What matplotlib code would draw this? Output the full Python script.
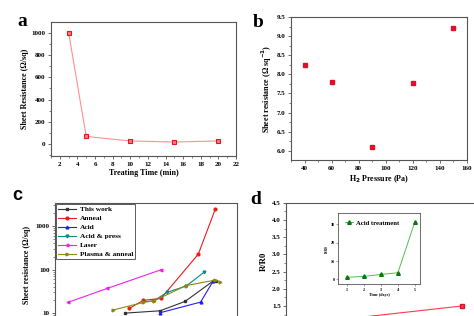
import matplotlib
matplotlib.use("Agg")
import matplotlib.pyplot as plt
from matplotlib.ticker import MultipleLocator, LogLocator, NullFormatter

plt.rcParams['font.family'] = ['Liberation Serif', 'DejaVu Serif']
plt.rcParams['font.weight'] = 'bold'
plt.rcParams['axes.labelweight'] = 'bold'

# ---- data ----
a_time = [3, 5, 10, 15, 20]
a_res = [1000, 70, 30, 20, 30]

b_press = [40, 60, 90, 120, 150]
b_res = [8.25, 7.8, 6.1, 7.78, 9.2]

c_labels = ["This work", "Anneal", "Acid", "Acid & press", "Laser", "Plasma & anneal"]
c_x = [
    [75.4, 83.1, 88.6, 94.8, 95.4],
    [76.3, 79.4, 83.3, 91.5, 95.2],
    [83.1, 92.0, 94.8],
    [79.4, 81.6, 84.6, 88.9, 92.7],
    [62.8, 71.5, 83.4],
    [72.8, 79.4, 81.8, 88.8, 95.2, 96.3],
]
c_y = [
    [10.0, 11.3, 18.6, 55, 54],
    [12.8, 19.6, 21.8, 227, 2420],
    [10.2, 17.9, 55.3],
    [18.2, 18.9, 29.9, 42.4, 86.3],
    [17.6, 37, 100],
    [11.8, 17.6, 19.2, 42.9, 57.4, 52.5],
]
c_colors = ["#333333", "#f01818", "#2020f0", "#108888", "#f020f0", "#8a8a10"]
c_markers = ["s", "o", "^", "v", "<", ">"]

d_x = [3, 9]
d_y = [1.12, 1.5]

inset_days = [1, 2, 3, 4, 5]
inset_ratio = [1.1, 1.6, 2.7, 3.6, 31.4]

W, H = 474, 316
fig = plt.figure(figsize=(W / 100, H / 100), dpi=100)


def ax_px(x0, y0, x1, y1):
    return fig.add_axes([x0 / W, 1 - y1 / H, (x1 - x0) / W, (y1 - y0) / H])


spine_col = "#555555"
tick_fs = 5
lab_fs = 5.8


def style(ax, fs=tick_fs):
    for s in ax.spines.values():
        s.set_color(spine_col)
        s.set_linewidth(0.8)
    ax.tick_params(which='major', direction='out', length=2.5, width=0.6,
                   labelsize=fs, pad=1.5, color=spine_col)
    ax.tick_params(which='minor', direction='out', length=1.4, width=0.5,
                   color=spine_col)
    for lbl in ax.get_xticklabels() + ax.get_yticklabels():
        lbl.set_fontweight('bold')


# ---- panel a ----
axa = ax_px(51, 22, 236, 156)
axa.plot(a_time, a_res, color="#ff9090", lw=0.8, marker='s', ms=3.5,
         mfc="#ff7a7a", mec="#e8102a", mew=0.8)
axa.set_xlim(1, 22)
axa.set_ylim(-105, 1095)
axa.xaxis.set_major_locator(MultipleLocator(2))
axa.xaxis.set_minor_locator(MultipleLocator(1))
axa.yaxis.set_major_locator(MultipleLocator(200))
axa.yaxis.set_minor_locator(MultipleLocator(100))
style(axa)
axa.set_xlabel("Treating Time (min)", fontsize=lab_fs, labelpad=2)
axa.set_ylabel("Sheet Resistance (Ω/sq)", fontsize=lab_fs, labelpad=2)
fig.text(17 / W, 1 - 26 / H, "a", fontsize=14, ha='left', va='baseline')

# ---- panel b ----
axb = ax_px(291, 17, 467, 160)
axb.plot(b_press, b_res, ls='none', marker='s', ms=3, color="#e0102a")
axb.set_xlim(30, 160)
axb.set_ylim(5.76, 9.5)
axb.xaxis.set_major_locator(MultipleLocator(20))
axb.xaxis.set_minor_locator(MultipleLocator(10))
axb.yaxis.set_major_locator(MultipleLocator(0.5))
axb.yaxis.set_minor_locator(MultipleLocator(0.25))
axb.yaxis.set_major_formatter(plt.FuncFormatter(lambda v, p: f"{v:.1f}"))
style(axb)
axb.set_xlabel("H$_\\mathbf{2}$ Pressure (Pa)", fontsize=lab_fs, labelpad=2)
axb.set_ylabel("Sheet resistance (Ω sq$^{\\mathbf{-1}}$)", fontsize=lab_fs, labelpad=2)
fig.text(253 / W, 1 - 27 / H, "b", fontsize=14, ha='left', va='baseline')

# ---- panel c ----
axc = ax_px(55, 203, 237, 326.2)
for xs, ys, lab, col, mk in zip(c_x, c_y, c_labels, c_colors, c_markers):
    axc.plot(xs, ys, color=col, lw=0.8, marker=mk, ms=2.0, label=lab)
axc.set_yscale('log')
axc.set_ylim(5, 3400)
axc.set_xlim(60, 100)
axc.yaxis.set_major_locator(LogLocator(base=10))
axc.yaxis.set_minor_locator(LogLocator(base=10, subs=range(2, 10)))
axc.yaxis.set_minor_formatter(NullFormatter())
axc.yaxis.set_major_formatter(plt.FuncFormatter(lambda v, p: f"{v:g}"))
style(axc)
axc.tick_params(axis='x', which='both', bottom=False, labelbottom=False)
axc.set_ylabel("Sheet resistance (Ω/sq)", fontsize=lab_fs, labelpad=3)
leg = axc.legend(loc='upper left', frameon=True, fancybox=False,
                 handlelength=2.4, handletextpad=0.5, labelspacing=0.38,
                 borderpad=0.3, borderaxespad=0.15, prop={'weight': 'bold', 'size': 5.3})
leg.get_frame().set_edgecolor("#333333")
leg.get_frame().set_linewidth(0.7)
fig.text(12 / W, 1 - 200 / H, "c", fontsize=13, ha='left', va='baseline',
         family='Liberation Sans', weight='bold')

# ---- panel d ----
axd = ax_px(286.3, 202.7, 482, 319.7)
axd.plot(d_x, d_y, color="#ff3a4a", lw=0.8, marker='s', ms=2.6, mec="#e0102a")
axd.set_xlim(0, 10)
axd.set_ylim(1.1, 4.5)
axd.yaxis.set_major_locator(MultipleLocator(0.5))
axd.yaxis.set_minor_locator(MultipleLocator(0.25))
axd.yaxis.set_major_formatter(plt.FuncFormatter(lambda v, p: f"{v:.1f}"))
style(axd)
axd.tick_params(axis='x', which='both', bottom=False, labelbottom=False)
axd.set_ylabel("R/R0", fontsize=lab_fs + 0.5, labelpad=3)
fig.text(250 / W, 1 - 204 / H, "d", fontsize=14, ha='left', va='baseline')

# inset
axi = ax_px(338.3, 213.3, 420, 284.3)
axi.plot(inset_days, inset_ratio, color="#50c050", lw=0.7, marker='^', ms=2.6,
         mfc="#109010", mec="#0a700a", label="Acid treatment")
axi.set_xlim(0.5, 5.3)
axi.set_ylim(-2.7, 36)
axi.xaxis.set_major_locator(MultipleLocator(1))
axi.yaxis.set_major_locator(MultipleLocator(10))
for s in axi.spines.values():
    s.set_color(spine_col)
    s.set_linewidth(0.6)
axi.tick_params(direction='out', length=1.5, width=0.4, labelsize=3, pad=1,
                color=spine_col)
for lbl in axi.get_xticklabels() + axi.get_yticklabels():
    lbl.set_fontweight('bold')
axi.set_xlabel("Time (days)", fontsize=3, labelpad=1)
axi.set_ylabel("R/R0", fontsize=2.5, labelpad=1)
axi.legend(loc='upper left', frameon=False, handlelength=1.2,
           handletextpad=0.4, borderaxespad=0.6, prop={'weight': 'bold', 'size': 4.8})

fig.savefig("out.png", dpi=100)
